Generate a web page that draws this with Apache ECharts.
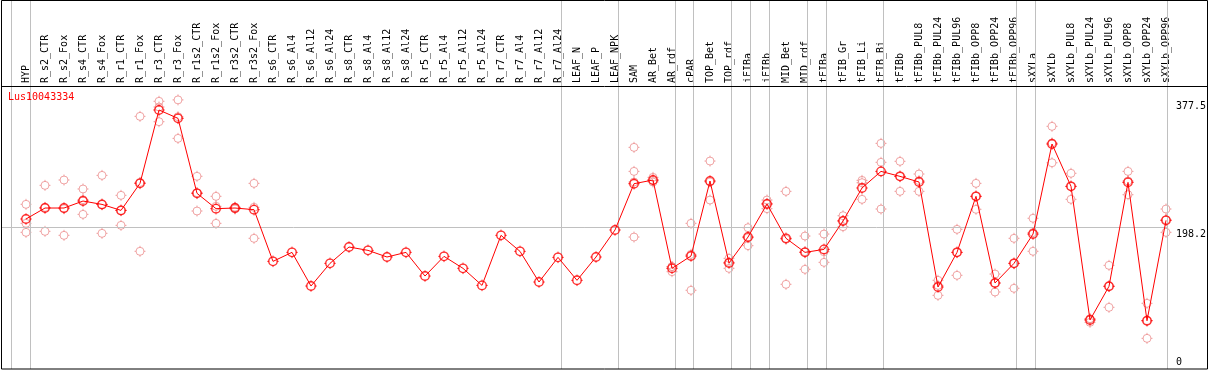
<!DOCTYPE html>
<html>
<head>
<meta charset="utf-8">
<script src="https://cdn.jsdelivr.net/npm/echarts@6/dist/echarts.min.js"></script>
<style>html,body{margin:0;padding:0;background:#fff}#c{width:1209px;height:370px}</style>
</head>
<body>
<div id="c"></div>
<script>
const title = 'Lus10043334';
const categories = ['HYP','R_s2_CTR','R_s2_Fox','R_s4_CTR','R_s4_Fox','R_r1_CTR','R_r1_Fox','R_r3_CTR','R_r3_Fox','R_r1s2_CTR','R_r1s2_Fox','R_r3s2_CTR','R_r3s2_Fox',
  'R_s6_CTR','R_s6_Al4','R_s6_Al12','R_s6_Al24','R_s8_CTR','R_s8_Al4','R_s8_Al12','R_s8_Al24','R_r5_CTR','R_r5_Al4','R_r5_Al12','R_r5_Al24','R_r7_CTR','R_r7_Al4','R_r7_Al12','R_r7_Al24','LEAF_N','LEAF_P','LEAF_NPK',
  'SAM','AR_Bet','AR_rdf','cPAR','TOP_Bet','TOP_rdf','iFIBa','iFIBb','MID_Bet','MID_rdf','tFIBa','tFIB_Gr','tFIB_Li','tFIB_Bi',
  'tFIBb','tFIBb_PUL8','tFIBb_PUL24','tFIBb_PUL96','tFIBb_OPP8','tFIBb_OPP24','tFIBb_OPP96','sXYLa','sXYLb','sXYLb_PUL8','sXYLb_PUL24','sXYLb_PUL96','sXYLb_OPP8','sXYLb_OPP24','sXYLb_OPP96'];
const meanVals = [210.4,225.8,225.8,235.6,230.9,222.5,260.4,363.3,351.6,246.4,224.9,225.8,223.5,
  151.0,163.6,116.4,148.2,171.1,166.4,157.1,163.6,130.4,158.0,141.2,117.3,187.5,165.0,122.0,156.6,124.4,157.1,195.0,
  259.9,265.1,141.2,158.5,263.7,148.7,185.1,231.4,183.3,163.6,167.8,207.6,253.9,277.2,
  270.2,262.3,115.0,163.6,242.2,120.6,148.2,189.3,315.6,256.2,68.7,116.0,261.8,67.7,208.5];
const N19 = [null,null,null,null,null,null,null,null,null,null,null,null,null,null,null,null,null,null,null];
const rep1 = [231.0,257.6,265.1,252.5,271.6,243.6,354.4,375.5,377.5,270.3,242.2,227.0,260.4].concat(N19,
  [310.9,268.8,143.5,204.3,291.7,155.2,198.2,237.0,249.2,186.5,189.3,215.0,264.6,316.5,
   291.3,273.5,124.4,195.9,260.4,133.2,183.3,211.4,340.4,274.5,70.6,145.4,277.2,92.1,224.4]);
const rep2 = [191.7,193.1,187.5,216.9,190.3,201.5,165.1,346.9,323.5,221.6,204.3,224.5,183.3].concat(N19,
  [185.1,262.3,136.5,110.4,237.0,141.2,173.0,224.9,118.8,139.8,149.6,199.6,238.0,224.4,
   249.2,249.2,103.3,131.4,224.0,108.0,113.2,165.1,289.3,238.0,65.5,86.5,244.5,43.0,191.7]);
const rep3 = [204.3,226.7,224.8,237.4,230.8,222.4,261.7,367.5,353.8,247.3,228.2,226.0,226.8].concat(N19,
  [277.2,264.2,143.6,160.8,262.4,149.7,184.1,232.3,181.9,164.5,164.5,208.2,261.3,289.9,
   270.0,264.2,117.3,163.5,242.2,120.6,148.1,191.4,317.1,256.1,70.0,116.1,263.7,68.0,209.4]);
const rep4Index = ['SAM'];
const rep4Vals = [262.3];
const yTicks = [0, 198.2, 377.5];
const groupEnds = [-1, 0, 28, 31, 34, 35, 37, 38, 39, 41, 42, 45, 52, 53, 60];

// layout
const FONT = 'DejaVu Sans Mono';
const STEP = 19, X0 = 26, PLOT_L = 2, PLOT_R = 1170, PLOT_B = 369, YPX = 0.7129;
const YMAX = PLOT_B / YPX;
const TICKS = 'path://M6,0L6,2M6,10L6,12M0,6L2,6M10,6L12,6';
const REP_C = '#ec9090', MEAN_C = '#ff0000';

const rep4 = categories.map(c => { const k = rep4Index.indexOf(c); return k >= 0 ? rep4Vals[k] : null; });

const chart = echarts.init(document.getElementById('c'));
function marks(d, color, size, bw, z) {
  return [
    {type: 'scatter', xAxisIndex: 0, yAxisIndex: 0, data: d, symbol: 'circle', symbolSize: size,
     silent: true, z: z, itemStyle: {color: 'none', borderColor: color, borderWidth: bw}},
    {type: 'scatter', xAxisIndex: 0, yAxisIndex: 0, data: d, symbol: TICKS, symbolSize: size + 3,
     silent: true, z: z, itemStyle: {color: 'none', borderColor: color, borderWidth: 1}}
  ];
}
let markSeries = [];
[rep1, rep2, rep3, rep4].forEach(d => { markSeries = markSeries.concat(marks(d, REP_C, 8, 1, 3)); });
markSeries = markSeries.concat(marks(meanVals, MEAN_C, 8.5, 1.4, 6));

chart.setOption({
  animation: false,
  backgroundColor: '#fff',
  title: {text: title, left: 8, top: 92, padding: 0,
    textStyle: {color: MEAN_C, fontSize: 10, fontWeight: 'normal', fontFamily: FONT}},
  grid: [
    {left: X0 - STEP / 2, width: STEP * categories.length, top: 0, height: PLOT_B},
    {left: PLOT_L, width: PLOT_R - PLOT_L, top: 0, height: PLOT_B}
  ],
  xAxis: [
    {type: 'category', gridIndex: 0, data: categories, position: 'top', offset: -86, boundaryGap: true,
     axisLine: {show: false}, axisTick: {show: false}, splitLine: {show: false},
     axisLabel: {rotate: 90, interval: 0, margin: 3, fontSize: 10, fontFamily: FONT, color: '#000'}},
    {type: 'value', gridIndex: 1, min: (PLOT_L - X0) / STEP, max: (PLOT_R - X0) / STEP + 0.05, show: false}
  ],
  yAxis: [
    {type: 'value', gridIndex: 0, min: 0, max: YMAX, show: false},
    {type: 'value', gridIndex: 1, min: 0, max: YMAX, position: 'right',
     axisLine: {show: false}, axisTick: {show: false}, splitLine: {show: false},
     axisLabel: {customValues: yTicks, formatter: v => String(v), margin: 8, fontSize: 10, fontFamily: FONT,
       color: '#000', verticalAlign: 'top', verticalAlignMinLabel: 'bottom', padding: [2, 0, 2, 0]}}
  ],
  graphic: [
    {type: 'rect', silent: true, z: 100, shape: {x: 1.5, y: 0.5, width: 1206, height: 368.5},
     style: {fill: 'none', stroke: '#000', lineWidth: 1}},
    {type: 'line', silent: true, z: 100, shape: {x1: 1, y1: 86.5, x2: 1208, y2: 86.5},
     style: {stroke: '#000', lineWidth: 1}}
  ],
  series: [
    {type: 'line', xAxisIndex: 1, yAxisIndex: 1, data: [], silent: true, z: 1,
     markLine: {silent: true, symbol: 'none', animation: false, label: {show: false},
       lineStyle: {color: '#c0c0c0', type: 'solid', width: 1},
       data: groupEnds.map(i => ({xAxis: i + 0.24})).concat([{yAxis: yTicks[1]}])}},
    {type: 'line', xAxisIndex: 0, yAxisIndex: 0, data: meanVals, showSymbol: false, silent: true, z: 5,
     lineStyle: {color: MEAN_C, width: 1}}
  ].concat(markSeries)
});
</script>
</body>
</html>
